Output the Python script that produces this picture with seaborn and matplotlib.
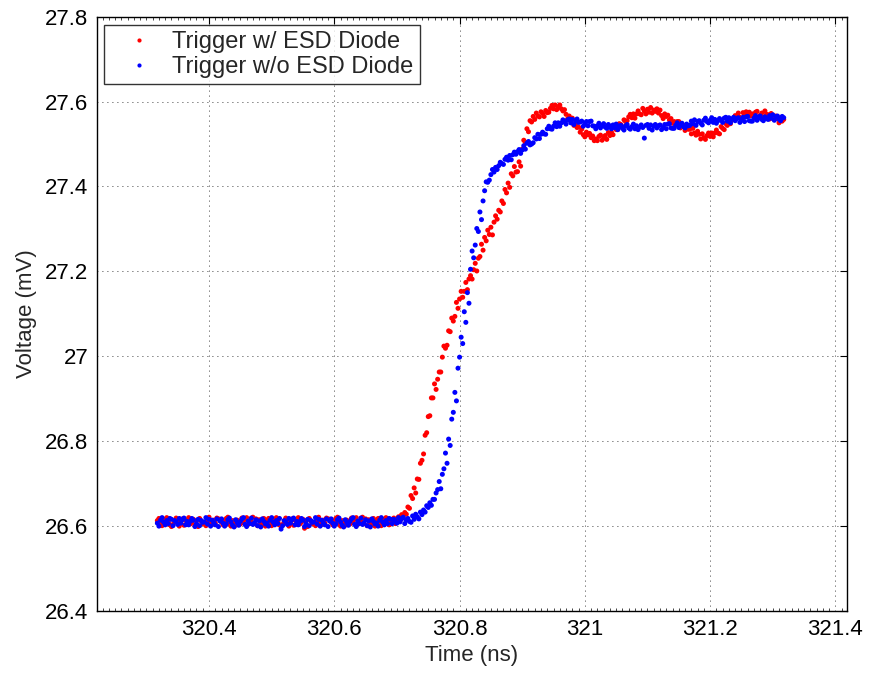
import numpy as np
import pandas as pd
import matplotlib
matplotlib.use("Agg")
import matplotlib.pyplot as plt
from matplotlib.ticker import MultipleLocator, FuncFormatter
import seaborn as sns

# sample times: scope record, 2.5 ps step
t_start = 320.3175
t_step = 0.0025

# Trigger w/ ESD Diode (mV)
v_with = [
    26.613, 26.618, 26.608, 26.601, 26.606, 26.616, 26.620, 26.611, 26.603, 26.599,
    26.604, 26.612, 26.619, 26.615, 26.600, 26.607, 26.617, 26.602, 26.614, 26.610,
    26.620, 26.605, 26.609, 26.616, 26.602, 26.613, 26.599, 26.618, 26.612, 26.606,
    26.608, 26.601, 26.615, 26.621, 26.610, 26.604, 26.614, 26.607, 26.619, 26.617,
    26.616, 26.609, 26.603, 26.612, 26.618, 26.621, 26.605, 26.600, 26.613, 26.607,
    26.602, 26.614, 26.611, 26.605, 26.619, 26.608, 26.616, 26.620, 26.604, 26.612,
    26.611, 26.621, 26.606, 26.617, 26.601, 26.615, 26.609, 26.604, 26.618, 26.600,
    26.613, 26.618, 26.608, 26.601, 26.606, 26.616, 26.620, 26.611, 26.603, 26.599,
    26.604, 26.612, 26.619, 26.615, 26.600, 26.607, 26.617, 26.602, 26.614, 26.610,
    26.620, 26.605, 26.609, 26.616, 26.595, 26.613, 26.599, 26.618, 26.612, 26.606,
    26.608, 26.601, 26.615, 26.621, 26.610, 26.604, 26.614, 26.607, 26.619, 26.617,
    26.616, 26.609, 26.603, 26.612, 26.618, 26.621, 26.605, 26.600, 26.613, 26.607,
    26.602, 26.614, 26.611, 26.605, 26.619, 26.608, 26.616, 26.620, 26.604, 26.612,
    26.611, 26.621, 26.606, 26.617, 26.601, 26.615, 26.609, 26.604, 26.618, 26.600,
    26.613, 26.618, 26.608, 26.601, 26.606, 26.616, 26.620, 26.611, 26.603, 26.605,
    26.612, 26.619, 26.606, 26.615, 26.622, 26.613, 26.627, 26.620, 26.632, 26.628,
    26.645, 26.642, 26.672, 26.665, 26.690, 26.678, 26.711, 26.710, 26.748, 26.755,
    26.770, 26.814, 26.820, 26.858, 26.860, 26.902, 26.902, 26.935, 26.922, 26.946,
    26.963, 26.963, 26.998, 27.024, 27.019, 27.026, 27.060, 27.058, 27.090, 27.083,
    27.094, 27.127, 27.113, 27.135, 27.153, 27.139, 27.153, 27.174, 27.157, 27.182,
    27.190, 27.182, 27.204, 27.219, 27.201, 27.231, 27.235, 27.264, 27.250, 27.280,
    27.272, 27.297, 27.287, 27.304, 27.286, 27.316, 27.331, 27.323, 27.344, 27.340,
    27.366, 27.360, 27.393, 27.385, 27.408, 27.398, 27.430, 27.425, 27.447, 27.434,
    27.435, 27.458, 27.448, 27.488, 27.509, 27.504, 27.536, 27.529, 27.555, 27.552,
    27.565, 27.558, 27.573, 27.566, 27.564, 27.576, 27.572, 27.565, 27.579, 27.574,
    27.575, 27.584, 27.591, 27.583, 27.592, 27.581, 27.588, 27.592, 27.583, 27.578,
    27.581, 27.570, 27.559, 27.566, 27.554, 27.561, 27.544, 27.546, 27.539, 27.540,
    27.528, 27.535, 27.522, 27.517, 27.528, 27.522, 27.525, 27.515, 27.519, 27.508,
    27.512, 27.508, 27.518, 27.521, 27.509, 27.514, 27.520, 27.511, 27.527, 27.520,
    27.528, 27.522, 27.540, 27.534, 27.534, 27.548, 27.546, 27.540, 27.557, 27.553,
    27.555, 27.564, 27.570, 27.562, 27.571, 27.561, 27.571, 27.578, 27.571, 27.569,
    27.584, 27.577, 27.571, 27.582, 27.575, 27.586, 27.573, 27.580, 27.577, 27.583,
    27.573, 27.580, 27.567, 27.560, 27.571, 27.565, 27.568, 27.557, 27.560, 27.549,
    27.553, 27.546, 27.553, 27.553, 27.538, 27.541, 27.544, 27.532, 27.545, 27.535,
    27.535, 27.524, 27.537, 27.526, 27.521, 27.530, 27.523, 27.512, 27.524, 27.515,
    27.511, 27.520, 27.526, 27.518, 27.526, 27.517, 27.526, 27.533, 27.526, 27.524,
    27.541, 27.537, 27.534, 27.548, 27.544, 27.558, 27.548, 27.558, 27.558, 27.567,
    27.563, 27.573, 27.563, 27.560, 27.574, 27.570, 27.576, 27.568, 27.575, 27.567,
    27.571, 27.566, 27.575, 27.577, 27.564, 27.568, 27.573, 27.563, 27.578, 27.570,
    27.569, 27.559, 27.572, 27.562, 27.558, 27.566, 27.560, 27.550, 27.562, 27.554,
    27.558,
]

# Trigger w/o ESD Diode (mV)
v_without = [
    26.607, 26.600, 26.614, 26.620, 26.609, 26.603, 26.613, 26.606, 26.618, 26.616,
    26.601, 26.613, 26.610, 26.604, 26.618, 26.607, 26.615, 26.619, 26.603, 26.611,
    26.603, 26.611, 26.618, 26.614, 26.599, 26.606, 26.616, 26.601, 26.613, 26.609,
    26.610, 26.620, 26.605, 26.616, 26.600, 26.614, 26.608, 26.603, 26.617, 26.599,
    26.612, 26.617, 26.607, 26.600, 26.605, 26.615, 26.619, 26.610, 26.602, 26.598,
    26.615, 26.608, 26.602, 26.611, 26.617, 26.620, 26.604, 26.599, 26.612, 26.606,
    26.619, 26.604, 26.608, 26.615, 26.601, 26.612, 26.598, 26.617, 26.611, 26.605,
    26.607, 26.600, 26.614, 26.620, 26.609, 26.603, 26.613, 26.606, 26.618, 26.593,
    26.601, 26.613, 26.610, 26.604, 26.618, 26.607, 26.615, 26.619, 26.603, 26.611,
    26.603, 26.611, 26.618, 26.614, 26.599, 26.606, 26.616, 26.601, 26.613, 26.609,
    26.610, 26.620, 26.605, 26.616, 26.600, 26.614, 26.608, 26.603, 26.617, 26.599,
    26.612, 26.617, 26.607, 26.600, 26.605, 26.615, 26.619, 26.610, 26.602, 26.598,
    26.615, 26.608, 26.602, 26.611, 26.617, 26.620, 26.604, 26.599, 26.612, 26.606,
    26.619, 26.604, 26.608, 26.615, 26.601, 26.612, 26.598, 26.617, 26.611, 26.605,
    26.607, 26.600, 26.614, 26.620, 26.609, 26.603, 26.613, 26.606, 26.618, 26.616,
    26.606, 26.616, 26.612, 26.607, 26.620, 26.610, 26.617, 26.621, 26.606, 26.614,
    26.618, 26.611, 26.609, 26.624, 26.616, 26.628, 26.622, 26.617, 26.633, 26.627,
    26.638, 26.633, 26.648, 26.644, 26.655, 26.649, 26.663, 26.663, 26.678, 26.686,
    26.705, 26.688, 26.722, 26.735, 26.772, 26.748, 26.805, 26.790, 26.852, 26.868,
    26.915, 26.895, 26.972, 26.998, 27.045, 27.030, 27.105, 27.080, 27.150, 27.125,
    27.205, 27.248, 27.232, 27.262, 27.301, 27.294, 27.340, 27.322, 27.366, 27.390,
    27.411, 27.410, 27.415, 27.428, 27.440, 27.434, 27.445, 27.440, 27.449, 27.457,
    27.454, 27.452, 27.464, 27.469, 27.462, 27.473, 27.463, 27.475, 27.481, 27.476,
    27.482, 27.487, 27.478, 27.486, 27.496, 27.488, 27.502, 27.506, 27.498, 27.500,
    27.503, 27.515, 27.512, 27.523, 27.513, 27.523, 27.528, 27.524, 27.523, 27.536,
    27.542, 27.536, 27.535, 27.542, 27.550, 27.541, 27.550, 27.542, 27.550, 27.557,
    27.552, 27.547, 27.557, 27.559, 27.550, 27.558, 27.546, 27.555, 27.559, 27.551,
    27.552, 27.554, 27.542, 27.547, 27.553, 27.543, 27.553, 27.554, 27.543, 27.542,
    27.536, 27.543, 27.549, 27.538, 27.544, 27.548, 27.540, 27.537, 27.546, 27.542,
    27.536, 27.545, 27.539, 27.547, 27.534, 27.542, 27.544, 27.537, 27.533, 27.543,
    27.546, 27.538, 27.535, 27.541, 27.547, 27.536, 27.543, 27.534, 27.540, 27.545,
    27.539, 27.514, 27.544, 27.546, 27.537, 27.545, 27.533, 27.542, 27.546, 27.538,
    27.543, 27.545, 27.534, 27.539, 27.546, 27.536, 27.547, 27.548, 27.538, 27.537,
    27.537, 27.544, 27.550, 27.539, 27.545, 27.549, 27.541, 27.538, 27.547, 27.543,
    27.544, 27.554, 27.548, 27.557, 27.544, 27.553, 27.555, 27.549, 27.545, 27.556,
    27.561, 27.553, 27.550, 27.556, 27.562, 27.551, 27.558, 27.549, 27.555, 27.560,
    27.556, 27.551, 27.561, 27.563, 27.554, 27.562, 27.550, 27.559, 27.563, 27.555,
    27.560, 27.562, 27.551, 27.556, 27.563, 27.553, 27.564, 27.565, 27.555, 27.554,
    27.554, 27.561, 27.567, 27.556, 27.562, 27.566, 27.558, 27.555, 27.564, 27.560,
    27.558, 27.567, 27.561, 27.569, 27.556, 27.564, 27.566, 27.559, 27.555, 27.565,
    27.562,
]

labels = ["Trigger w/ ESD Diode", "Trigger w/o ESD Diode"]
colors = ["#ff0000", "#0000ff"]

x_ticks = [320.4, 320.6, 320.8, 321.0, 321.2, 321.4]
y_ticks = [26.4, 26.6, 26.8, 27.0, 27.2, 27.4, 27.6, 27.8]

t_with = t_start + t_step * np.arange(len(v_with))
t_without = t_start + t_step * np.arange(len(v_without))

df = pd.concat([
    pd.DataFrame({"t": t_with, "v": v_with, "trace": labels[0]}),
    pd.DataFrame({"t": t_without, "v": v_without, "trace": labels[1]}),
], ignore_index=True)

sns.set_style("white")
plt.rcParams["font.family"] = ["Liberation Sans", "DejaVu Sans"]

fig = plt.figure(figsize=(8.69, 6.73), dpi=100)
ax = fig.add_axes([0.1113, 0.0921, 0.863, 0.8831])

sns.scatterplot(data=df, x="t", y="v", hue="trace", palette=colors,
                marker="o", s=13, linewidth=0, ax=ax, legend=False)

ax.set_xlim(320.2207, 321.418)
ax.set_ylim(26.4, 27.8)
ax.set_xticks(x_ticks)
ax.set_yticks(y_ticks)
fmt = FuncFormatter(lambda v, p: "%g" % round(v, 4))
ax.xaxis.set_major_formatter(fmt)
ax.yaxis.set_major_formatter(fmt)
ax.xaxis.set_minor_locator(MultipleLocator(0.01))

ax.grid(True, which="major", color="black", linestyle=(0, (1, 5)), linewidth=0.6)
ax.tick_params(which="major", direction="in", length=5, width=0.8,
               top=True, right=True, labelsize=16, colors="black", pad=6)
ax.tick_params(which="minor", axis="x", direction="in", length=2.5, width=0.6,
               top=True, bottom=True)
for sp in ax.spines.values():
    sp.set_color("black")
    sp.set_linewidth(1.0)

ax.set_xlabel("Time (ns)", fontsize=16, labelpad=3)
ax.set_ylabel("Voltage (mV)", fontsize=16, labelpad=6)

handles = [plt.Line2D([], [], linestyle="none", marker="o", markersize=3,
                      markerfacecolor=c, markeredgewidth=0) for c in colors]
leg = ax.legend(handles, labels, loc="upper left", bbox_to_anchor=(0.0097, 0.986),
                borderaxespad=0, fontsize=17, frameon=True, fancybox=False,
                handlelength=2.5, handletextpad=0.15, borderpad=0.25,
                labelspacing=0.15)
leg.get_frame().set_edgecolor("black")
leg.get_frame().set_linewidth(1.0)

fig.savefig("out.png", dpi=100)
